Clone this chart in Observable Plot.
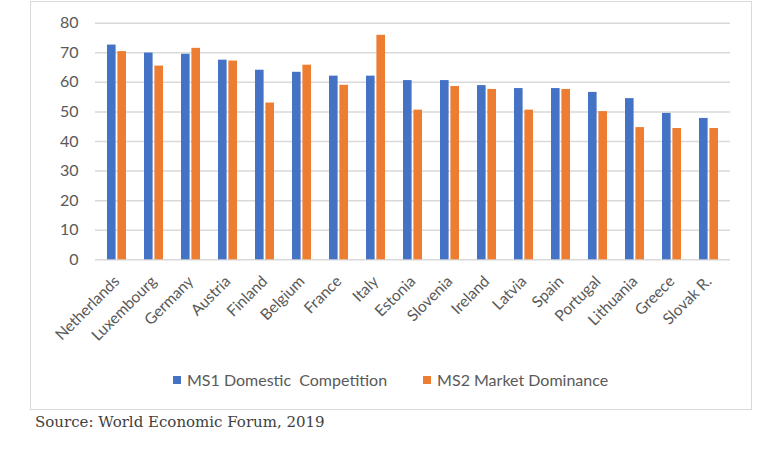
<!DOCTYPE html>
<html>
<head>
<meta charset="utf-8">
<script src="https://cdn.jsdelivr.net/npm/d3@7"></script>
<script src="https://cdn.jsdelivr.net/npm/@observablehq/plot@0.6"></script>
<style>
  body { margin: 0; background: #fff; }
  #wrap { position: relative; width: 782px; height: 459px; font-family: Lato, sans-serif; }
  #frame { position: absolute; left: 30px; top: 1px; width: 720px; height: 407px; border: 1.5px solid #d9d9d9; }
  #chart { position: absolute; left: 0; top: 0; }
  #chart g[aria-label="x-axis tick label"] { font-size: 15.5px; }
  #chart g[aria-label="y-axis tick label"] { font-size: 16px; }
  #legend { position: absolute; left: 173px; top: 370px; display: flex; align-items: center; font-size: 16px; color: #595959; white-space: pre; }
  .sw { display: inline-block; width: 8px; height: 8px; margin-right: 6px; }
  .item { display: flex; align-items: center; }
  #caption { position: absolute; left: 35px; top: 413px; font-family: "DejaVu Serif", serif; font-size: 15px; color: #404040; }
</style>
</head>
<body>
<div id="wrap">
  <div id="frame"></div>
  <div id="chart"></div>
  <div id="legend"></div>
  <div id="caption">Source: World Economic Forum, 2019</div>
</div>
<script>
const countries = ["Netherlands","Luxembourg","Germany","Austria","Finland","Belgium","France","Italy","Estonia","Slovenia","Ireland","Latvia","Spain","Portugal","Lithuania","Greece","Slovak R."];
const ms1 = [72.6, 69.9, 69.5, 67.5, 64.1, 63.4, 62.1, 62.1, 60.6, 60.6, 58.9, 57.9, 57.9, 56.6, 54.5, 49.5, 47.8];
const ms2 = [70.4, 65.5, 71.5, 67.2, 53.0, 65.8, 59.0, 75.9, 50.6, 58.6, 57.6, 50.6, 57.6, 50.1, 44.7, 44.4, 44.4];
const seriesNames = ["MS1 Domestic  Competition", "MS2 Market Dominance"];
const seriesColors = ["#4472C4", "#ED7D31"];
const yTicks = [0, 10, 20, 30, 40, 50, 60, 70, 80];

const d1 = countries.map((c, i) => ({country: c, value: ms1[i]}));
const d2 = countries.map((c, i) => ({country: c, value: ms2[i]}));

const chart = Plot.plot({
  width: 782,
  height: 360,
  marginLeft: 95,
  marginRight: 52,
  marginTop: 22.7,
  marginBottom: 100.7,
  style: {fontFamily: "Lato, sans-serif", fontSize: "15px", color: "#595959", background: "transparent"},
  x: {domain: countries, paddingInner: 0.48, paddingOuter: 0.24, label: null, tickSize: 0, tickPadding: 19, tickRotate: -45},
  y: {domain: [0, 80], ticks: yTicks, label: null, tickSize: 0, tickPadding: 17, tickFormat: d3.format("d")},
  marks: [
    Plot.gridY(yTicks, {stroke: "#d9d9d9", strokeOpacity: 1, strokeWidth: 1.5}),
    Plot.barY(d1, {x: "country", y: "value", fill: seriesColors[0], insetRight: 10.4}),
    Plot.barY(d2, {x: "country", y: "value", fill: seriesColors[1], insetLeft: 10.4})
  ]
});
document.getElementById("chart").appendChild(chart);

const legend = document.getElementById("legend");
seriesNames.forEach((name, i) => {
  const item = document.createElement("div");
  item.className = "item";
  if (i > 0) item.style.marginLeft = "36px";
  const sw = document.createElement("span");
  sw.className = "sw";
  sw.style.background = seriesColors[i];
  item.appendChild(sw);
  const t = document.createElement("span");
  t.textContent = name;
  item.appendChild(t);
  legend.appendChild(item);
});
</script>
</body>
</html>
